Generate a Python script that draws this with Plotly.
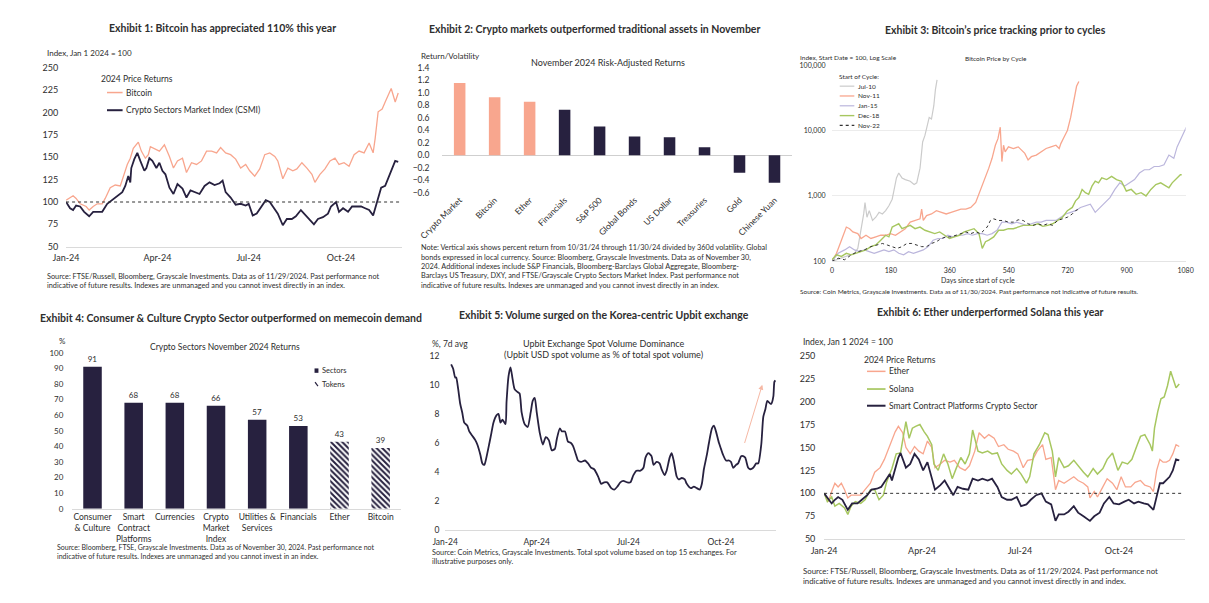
import pandas as pd
import plotly.graph_objects as go

W, H = 1209, 603
FONT = "Lato"
INK = "#2e2e2e"
NAVY = "#27213f"
SALMON = "#f8a68e"
GREEN = "#a7c760"
LAVENDER = "#bbb6dc"
SILVER = "#cbcbcb"
AXIS = "#dadada"

# ------------------------------------------------------------------ data
# Exhibit 1 (day offsets from Jan 1 2024, index values)
ex1_btc_days = [0,7,10,14,20,23,27,31,36,39,44,49,54,57,61,64,67,72,75,79,82,84,88,93,98,103,107,111,116,120,125,130,135,140,145,150,154,159,164,169,174,179,183,188,193,198,203,208,211,216,221,226,230,235,240,245,248,253,258,263,268,272,277,282,287,292,297,302,306,308,311,315,318,321,324,328,331]
ex1_btc = [102,107,104,98,95,91,95,98,98,104,116,119,118,129,142,149,160,167,157,149,153,162,160,157,164,151,138,146,149,133,144,142,146,157,157,155,161,155,153,148,138,142,135,129,137,153,155,151,146,126,138,135,137,144,138,131,122,131,137,146,149,142,144,140,153,157,155,166,155,171,201,204,212,219,227,212,222]
ex1_csmi_days = [0,4,7,10,14,18,23,27,31,36,41,46,51,56,59,62,64,65,68,71,74,78,80,83,86,90,93,96,99,103,107,111,116,120,124,128,133,138,143,148,153,156,159,164,169,174,179,182,186,190,195,199,203,206,211,216,220,225,229,234,239,243,247,251,256,261,264,269,272,276,281,285,289,294,298,302,306,310,314,318,321,324,328,331]
ex1_csmi = [100,93,91,96,95,89,84,89,89,89,98,102,107,111,118,129,122,138,148,155,146,135,138,149,146,138,144,135,131,116,109,120,115,105,113,111,109,118,122,119,121,124,111,105,97,98,96,98,85,87,95,102,100,95,87,74,81,81,84,91,85,80,75,81,83,87,95,100,89,93,89,95,95,95,93,91,85,102,116,118,127,135,146,145]

# Exhibit 2
ex2_assets = ["Crypto Market", "Bitcoin", "Ether", "Financials", "S&P 500", "Global Bonds", "US Dollar", "Treasuries", "Gold", "Chinese Yuan"]
ex2_ratio = [1.16, 0.93, 0.86, 0.73, 0.46, 0.30, 0.29, 0.13, -0.28, -0.44]
ex2_crypto = [True, True, True, False, False, False, False, False, False, False]

# Exhibit 3 (days since start of cycle, index values)
ex3_jul10_days = [0,39,69,79,89,97,101,107,114,124,134,144,154,164,174,184,191,197,204,214,224,239,251,259,269,277,284,291,297,304,311,316,321]
ex3_jul10 = [100,119,133,158,299,531,794,473,596,422,473,562,531,596,708,891,1334,1884,2239,1884,1778,1679,1496,1585,2661,6683,8414,11885,15849,14962,23714,42170,59566]
ex3_nov11_days = [0,14,29,44,54,64,79,89,104,119,134,149,164,179,194,209,224,239,254,269,274,279,289,304,319,334,349,364,379,394,409,424,439,449,459,469,479,489,499,507,514,519,524,529,539,554,569,579,589,599,609,624,639,654,669,684,694,699,709,719,729,739,747,754]
ex3_nov11 = [100,133,211,335,316,282,266,224,251,224,237,251,251,266,251,282,316,398,422,447,631,422,501,531,596,562,531,562,596,631,631,668,794,1059,1413,1884,2661,3758,5957,7499,11220,3350,5957,4732,5623,5309,5623,5012,4467,3548,3981,4217,4732,5309,5623,5957,5309,6310,7943,10000,15849,29854,47315,56234]
ex3_jan15_days = [0,19,39,54,69,84,99,114,129,144,159,174,189,204,219,234,249,264,279,294,309,324,339,354,369,384,399,414,429,444,459,474,489,504,519,534,549,564,579,594,609,624,639,654,669,684,699,714,729,744,759,774,789,804,819,834,849,864,879,894,909,924,939,954,969,984,999,1014,1029,1044,1054,1064,1074,1082]
ex3_jan15 = [100,133,150,168,150,141,150,141,133,141,150,141,150,133,126,141,133,141,150,168,211,224,224,251,237,251,251,266,251,266,266,251,266,299,398,398,376,398,376,355,376,398,398,422,422,422,473,531,562,596,668,708,750,562,668,794,944,1259,1585,1413,1585,1778,2239,2512,2512,2818,2818,2985,4217,3758,5623,7079,9441,11220]
ex3_dec18_days = [0,14,29,44,59,74,89,104,119,134,149,164,174,184,194,204,214,229,239,254,269,284,299,314,329,344,359,374,389,404,419,434,449,459,469,479,494,509,524,539,554,569,584,599,614,629,644,659,674,689,704,719,734,744,754,764,774,784,794,804,814,824,839,854,869,884,899,914,929,944,959,974,989,1004,1019,1029,1039,1054,1064,1068]
ex3_dec18 = [106,126,119,133,126,133,141,150,168,178,211,251,237,335,355,376,316,335,355,316,335,299,282,266,282,251,224,237,251,282,299,316,266,158,200,211,237,299,299,316,316,335,355,355,355,376,343,355,376,422,473,596,668,841,944,1259,1122,1059,1413,1679,1585,1884,1778,1995,1778,1679,1189,1259,1059,1122,1000,1259,1496,1585,1413,1334,1585,1884,2113,2113]
ex3_nov22_days = [0,19,39,59,79,99,119,139,154,169,184,199,214,229,244,259,274,289,304,319,334,349,364,379,394,409,424,439,454,464,474,484,494,509,524,539,554,569,584,599,614,629,644,659,674,689,704,719,734,744,754]
ex3_nov22 = [100,112,106,126,141,150,168,178,188,178,168,158,168,188,188,178,168,168,188,200,224,237,237,251,266,282,266,282,266,299,335,422,447,422,422,398,398,432,422,376,355,376,355,376,355,422,447,473,531,596,631]
ex3_cycles = ["Jul-10", "Nov-11", "Jan-15", "Dec-18", "Nov-22"]
ex3_ticks = [100, 1000, 10000, 100000]
ex3_ticktext = ["100", "1,000", "10,000", "100,000"]

# Exhibit 4
ex4_sectors = ["Consumer & Culture", "Smart Contract Platforms", "Currencies", "Crypto Market Index",
               "Utilities & Services", "Financials", "Ether", "Bitcoin"]
ex4_labels = ["Consumer<br>& Culture", "Smart<br>Contract<br>Platforms", "Currencies", "Crypto<br>Market<br>Index",
              "Utilities &<br>Services", "Financials", "Ether", "Bitcoin"]
ex4_returns = [91, 68, 68, 66, 57, 53, 43, 39]
ex4_kind = ["Sectors"] * 6 + ["Tokens"] * 2

# Exhibit 5 (days from Jan 1 2024, % 7d avg)
ex5_days = [6,8,10,11,13,15,17,19,22,24,27,30,32,35,37,39,41,44,46,48,51,53,55,57,60,61,63,65,67,69,72,74,76,79,82,85,87,89,91,94,97,100,103,106,109,111,114,116,119,122,125,127,130,132,135,139,142,145,148,152,155,158,161,165,168,171,174,177,181,184,187,190,194,197,199,202,205,207,210,213,215,218,220,223,225,227,230,232,235,238,240,244,247,250,253,255,257,260,262,265,267,269,272,274,276,279,282,284,286,289,291,294,296,298,301,303,306,309,311,314,316,318,320,323,324,326,327,328]
ex5_upbit = [11.4,11.1,10.5,10.5,9.7,8.7,8.1,7.4,7.2,6.8,6.5,6.2,5.9,5.2,4.6,4.5,5.0,6.0,6.7,7.4,7.9,8.0,7.4,7.6,7.3,8.8,10.6,11.2,10.4,9.7,9.5,9.4,8.1,7.3,7.1,8.1,8.9,9.1,8.1,6.7,5.9,6.4,6.2,5.5,5.6,6.3,7.0,6.8,6.8,6.1,6.0,5.8,5.2,4.8,4.7,4.8,4.6,4.3,4.2,3.7,3.2,3.3,3.3,2.9,2.8,3.0,3.3,3.4,3.3,3.3,3.8,4.1,4.1,4.3,5.0,5.3,5.1,4.5,4.7,4.6,4.2,3.8,4.1,5.0,5.3,4.8,3.7,3.5,3.6,3.5,3.2,2.9,3.0,2.9,2.8,3.2,4.2,5.2,6.0,7.0,7.2,6.8,6.0,5.6,5.2,4.8,4.8,4.7,4.3,4.5,4.6,5.1,5.1,5.0,4.3,4.2,4.3,4.6,4.6,5.9,7.8,8.3,8.9,8.7,8.7,9.2,10.2,10.3]
ex5_arrow_days = [297, 315]
ex5_arrow_vals = [5.9, 10.0]

# Exhibit 6
ex6_eth_days = [0,4,7,10,13,16,19,22,25,29,34,38,43,47,52,56,61,66,69,73,76,80,84,88,92,96,100,103,108,112,117,121,126,131,135,140,144,149,153,158,162,167,171,176,180,185,189,194,198,203,206,211,215,218,223,227,232,236,241,245,247,251,254,259,263,268,272,276,280,285,289,294,298,303,306,309,312,315,318,321,324,327,330]
ex6_eth = [100,91,102,111,107,111,104,95,98,98,98,104,111,123,128,137,153,167,173,166,150,143,151,146,143,157,150,128,132,136,134,136,128,125,130,146,166,160,164,160,151,153,148,146,143,128,136,137,146,153,137,139,104,114,111,114,118,114,111,107,95,102,96,107,116,111,104,118,107,107,112,114,109,107,102,125,137,134,134,136,143,153,151]
ex6_sol_days = [0,3,7,10,14,19,22,25,29,34,38,43,47,51,55,58,63,67,71,74,76,79,82,85,89,93,96,100,102,106,111,115,119,123,127,131,135,138,143,147,152,156,161,165,170,174,179,183,188,191,195,200,205,208,212,215,218,223,227,232,236,241,245,250,254,259,263,268,273,277,282,286,291,294,298,303,305,307,310,313,316,319,322,325,327,330]
ex6_sol = [100,91,96,86,89,84,77,86,91,89,93,104,104,93,98,112,127,143,144,166,178,160,171,173,175,167,162,153,132,125,143,132,116,128,139,132,143,169,146,144,146,143,144,132,125,121,127,121,111,118,143,153,166,164,146,118,139,128,130,136,130,123,118,127,121,127,137,144,125,134,132,137,153,162,164,153,146,171,189,203,205,217,233,222,215,219]
ex6_scp_days = [0,4,7,10,13,17,22,26,31,35,40,44,49,53,56,61,63,66,69,71,73,76,80,84,88,92,96,100,103,108,112,117,120,124,129,134,138,143,147,152,156,161,165,170,174,179,183,188,192,197,202,206,211,215,218,223,227,232,236,241,245,247,251,256,260,265,269,274,279,283,288,292,297,301,306,309,312,315,318,321,324,327,330]
ex6_scp = [100,93,89,93,96,93,82,89,89,93,98,104,105,107,112,121,114,128,139,144,137,128,132,143,137,125,134,118,104,109,114,104,98,107,105,104,116,114,116,114,116,107,96,93,93,96,86,88,93,98,100,91,88,70,77,77,80,86,79,75,72,70,75,79,89,96,89,88,91,93,89,91,89,88,82,98,111,111,114,118,125,137,136]

quarter_ticks = ["2024-01-01", "2024-04-01", "2024-07-01", "2024-10-01"]

# ------------------------------------------------------------------ helpers
START = pd.Timestamp("2024-01-01")


def dates(days):
    return [START + pd.Timedelta(days=int(d)) for d in days]


def px(x):
    return x / W


def py(y):
    return 1 - y / H


def xdom(a, b):
    return [a / W, b / W]


def ydom(top, bottom):
    return [1 - bottom / H, 1 - top / H]


annotations = []
shapes = []


def text(t, x, y, size, anchor="left", bold=False, color=INK):
    annotations.append(dict(
        text=f"<b>{t}</b>" if bold else t, x=px(x), y=py(y), xref="paper", yref="paper",
        xanchor=anchor, yanchor="middle", showarrow=False,
        font=dict(family=FONT, size=size, color=color)))


def key_line(x0, x1, y, color, width, dash="solid"):
    shapes.append(dict(type="line", xref="paper", yref="paper", x0=px(x0), x1=px(x1),
                       y0=py(y), y1=py(y), line=dict(color=color, width=width, dash=dash)))


fig = go.Figure()

# ------------------------------------------------------------------ Exhibit 1
fig.add_trace(go.Scatter(x=dates(ex1_btc_days), y=ex1_btc, mode="lines", name="Bitcoin",
                         line=dict(color=SALMON, width=1.3), xaxis="x", yaxis="y"))
fig.add_trace(go.Scatter(x=dates(ex1_csmi_days), y=ex1_csmi, mode="lines",
                         name="Crypto Sectors Market Index (CSMI)",
                         line=dict(color=NAVY, width=1.8), xaxis="x", yaxis="y"))

# ------------------------------------------------------------------ Exhibit 2
fig.add_trace(go.Bar(x=ex2_assets, y=ex2_ratio, width=0.33,
                     marker=dict(color=[SALMON if c else NAVY for c in ex2_crypto], line=dict(width=0)),
                     xaxis="x2", yaxis="y2"))

# ------------------------------------------------------------------ Exhibit 3
ex3_series = [
    (ex3_jul10_days, ex3_jul10, SILVER, "solid", 1.2),
    (ex3_nov11_days, ex3_nov11, SALMON, "solid", 1.3),
    (ex3_jan15_days, ex3_jan15, LAVENDER, "solid", 1.2),
    (ex3_dec18_days, ex3_dec18, GREEN, "solid", 1.4),
    (ex3_nov22_days, ex3_nov22, "#333333", "dot", 1.0),
]
for name, (d, v, c, dash, w) in zip(ex3_cycles, ex3_series):
    fig.add_trace(go.Scatter(x=d, y=v, mode="lines", name=name,
                             line=dict(color=c, width=w, dash=dash), xaxis="x3", yaxis="y3"))

# ------------------------------------------------------------------ Exhibit 4
fig.add_trace(go.Bar(
    x=ex4_sectors, y=ex4_returns, width=0.45,
    text=[str(v) for v in ex4_returns], textposition="outside", cliponaxis=False,
    textfont=dict(family=FONT, size=8, color=INK),
    marker=dict(color=NAVY, line=dict(width=0),
                pattern=dict(shape=["\\" if k == "Tokens" else "" for k in ex4_kind],
                             fillmode="replace", bgcolor="white", fgcolor=NAVY, size=4, solidity=0.5)),
    xaxis="x4", yaxis="y4"))

# ------------------------------------------------------------------ Exhibit 5
fig.add_trace(go.Scatter(x=dates(ex5_days), y=ex5_upbit, mode="lines", line_shape="spline",
                         line=dict(color=NAVY, width=1.8, smoothing=0.6), xaxis="x5", yaxis="y5"))
arrow_dates = dates(ex5_arrow_days)
annotations.append(dict(x=arrow_dates[1], y=ex5_arrow_vals[1], ax=arrow_dates[0], ay=ex5_arrow_vals[0],
                        xref="x5", yref="y5", axref="x5", ayref="y5", text="", showarrow=True,
                        arrowhead=2, arrowsize=1, arrowwidth=1, arrowcolor="#f6b8a4"))

# ------------------------------------------------------------------ Exhibit 6
fig.add_trace(go.Scatter(x=dates(ex6_eth_days), y=ex6_eth, mode="lines", name="Ether",
                         line=dict(color=SALMON, width=1.3), xaxis="x6", yaxis="y6"))
fig.add_trace(go.Scatter(x=dates(ex6_sol_days), y=ex6_sol, mode="lines", name="Solana",
                         line=dict(color=GREEN, width=1.5), xaxis="x6", yaxis="y6"))
fig.add_trace(go.Scatter(x=dates(ex6_scp_days), y=ex6_scp, mode="lines",
                         name="Smart Contract Platforms Crypto Sector",
                         line=dict(color=NAVY, width=1.8), xaxis="x6", yaxis="y6"))

# dotted 100 reference lines
for xr, yr in (("x domain", "y"), ("x6 domain", "y6")):
    shapes.append(dict(type="line", xref=xr, yref=yr, x0=0, x1=0.995, y0=100, y1=100,
                       line=dict(color="#333333", width=1, dash="dot")))

# ------------------------------------------------------------------ axes
tickfont = lambda s: dict(family=FONT, size=s, color=INK)
hidden = "rgba(0,0,0,0)"


def date_axis(dom, anchor, end, size):
    return dict(domain=dom, anchor=anchor, type="date", range=["2024-01-01", end],
                tickvals=quarter_ticks, tickformat="%b-%y", showgrid=False, zeroline=False,
                showline=True, linecolor=AXIS, linewidth=1, ticks="outside", ticklen=3,
                tickcolor=hidden, tickfont=tickfont(size))


def value_axis(dom, anchor, rng, dtick, size, ticklen, fmt=None):
    d = dict(domain=dom, anchor=anchor, range=rng, dtick=dtick, showgrid=False, zeroline=False,
             showline=False, ticks="outside", ticklen=ticklen, tickcolor=hidden, tickfont=tickfont(size))
    if fmt:
        d["tickformat"] = fmt
    return d


layout = dict(
    width=W, height=H, margin=dict(l=0, r=0, t=0, b=0), showlegend=False,
    paper_bgcolor="white", plot_bgcolor="white", font=dict(family=FONT, color=INK),
    bargap=0.5,
    xaxis=date_axis(xdom(36, 381), "y", "2024-12-01", 9),
    yaxis=value_axis(ydom(55, 237), "x", [50, 250], 25, 9, 5),
    xaxis2=dict(domain=xdom(422, 781), anchor="y2", type="category", tickangle=-45, showgrid=False,
                showline=False, zeroline=False, ticks="", tickfont=tickfont(8.5)),
    yaxis2=dict(value_axis(ydom(55, 182), "x2", [-0.6, 1.4], 0.2, 8.5, 10, ".1f"),
                zeroline=True, zerolinecolor="#cfcfcf", zerolinewidth=1),
    xaxis3=dict(domain=xdom(822, 1185), anchor="y3", range=[0, 1080], tickvals=[0, 180, 360, 540, 720, 900, 1080],
                showgrid=False, zeroline=False, showline=True, linecolor="#e4e4e4", ticks="outside",
                ticklen=2, tickcolor=hidden, tickfont=tickfont(7)),
    yaxis3=dict(domain=ydom(52, 252), anchor="x3", type="log", range=[2, 5], tickvals=ex3_ticks,
                ticktext=ex3_ticktext, showgrid=True, gridcolor="#ececec", zeroline=False, showline=False,
                ticks="outside", ticklen=4, tickcolor=hidden, tickfont=tickfont(7)),
    xaxis4=dict(domain=xdom(42, 380), anchor="y4", type="category", tickvals=ex4_sectors, ticktext=ex4_labels,
                showgrid=False, zeroline=False, showline=True, linecolor=AXIS, ticks="", tickfont=tickfont(8.5)),
    yaxis4=value_axis(ydom(345, 504), "x4", [0, 100], 10, 8, 6),
    xaxis5=date_axis(xdom(425, 765), "y5", "2024-11-25", 8.5),
    yaxis5=value_axis(ydom(348, 526), "x5", [0, 12], 2, 8.5, 3),
    xaxis6=date_axis(xdom(814, 1184), "y6", "2024-12-01", 9),
    yaxis6=value_axis(ydom(348, 535), "x6", [50, 250], 25, 9, 6),
)

# ------------------------------------------------------------------ texts
# Exhibit 1
text("Exhibit 1: Bitcoin has appreciated 110% this year", 197, 14, 10.5, "center", bold=True)
text("Index, Jan 1 2024 = 100", 14, 40, 8)
text("2024 Price Returns", 70, 66, 8.5)
key_line(78, 94, 80, SALMON, 1.5)
text("Bitcoin", 95, 80, 8.5)
key_line(78, 94, 98, NAVY, 2)
text("Crypto Sectors Market Index (CSMI)", 95, 98, 8.5)
text("Source: FTSE/Russell, Bloomberg, Grayscale Investments. Data as of 11/29/2024. Past performance not", 14, 267, 7.3)
text("indicative of future results. Indexes are unmanaged and you cannot invest directly in an index.", 14, 277, 7.3)

# Exhibit 2
text("Exhibit 2: Crypto markets outperformed traditional assets in November", 406, 15, 10.5, bold=True)
text("Return/Volatility", 398, 43, 8)
text("November 2024 Risk-Adjusted Returns", 592, 49, 9, "center")
for i, line in enumerate([
        "Note: Vertical axis shows percent return from 10/31/24 through 11/30/24 divided by 360d volatility. Global",
        "bonds expressed in local currency. Source: Bloomberg, Grayscale Investments. Data as of November 30,",
        "2024. Additional indexes include S&P Financials, Bloomberg-Barclays Global Aggregate, Bloomberg-",
        "Barclays US Treasury, DXY, and FTSE/Grayscale Crypto Sectors Market Index. Past performance not",
        "indicative of future results. Indexes are unmanaged and you cannot invest directly in an index."]):
    text(line, 398, 238 + i * 9.6, 7.3)

# Exhibit 3
text("Exhibit 3: Bitcoin’s price tracking prior to cycles", 990, 16, 10.5, "center", bold=True)
text("Index, Start Date = 100, Log Scale", 787, 44, 6.5)
text("Bitcoin Price by Cycle", 990, 45, 6.5, "center")
text("Start of Cycle:", 827, 64, 6.5)
for i, (name, (_, _, c, dash, w)) in enumerate(zip(ex3_cycles, ex3_series)):
    yy = 73.5 + i * 10
    key_line(830, 845, yy, c, max(w, 1.2), dash)
    text(name, 847, yy, 6.5)
text("Days since start of cycle", 972, 271, 7, "center")
text("Source: Coin Metrics, Grayscale Investments. Data as of 11/30/2024. Past performance not indicative of future results.",
     787, 283, 6.5)

# Exhibit 4
text("Exhibit 4: Consumer & Culture Crypto Sector outperformed on memecoin demand", 7, 310, 10.5, bold=True)
text("%", 27, 333.5, 8)
text("Crypto Sectors November 2024 Returns", 199, 339, 8.5, "center")
shapes.append(dict(type="rect", xref="paper", yref="paper", x0=px(291), x1=px(295), y0=py(365.5),
                   y1=py(361), fillcolor=NAVY, line=dict(width=0)))
text("Sectors", 297, 363, 7.5)
shapes.append(dict(type="line", xref="paper", yref="paper", x0=px(291.5), x1=px(294.5), y0=py(375),
                   y1=py(379), line=dict(color=NAVY, width=1.2)))
text("Tokens", 297, 377, 7.5)
text("Source: Bloomberg, FTSE, Grayscale Investments. Data as of November 30, 2024. Past performance not", 25, 543, 7)
text("indicative of future results. Indexes are unmanaged and you cannot invest in an index.", 25, 552, 7)

# Exhibit 5
text("Exhibit 5: Volume surged on the Korea-centric Upbit exchange", 588, 307, 10.5, "center", bold=True)
text("%, 7d avg", 410, 336, 8.5)
text("Upbit Exchange Spot Volume Dominance", 588, 336, 9, "center")
text("(Upbit USD spot volume as % of total spot volume)", 588, 347, 9, "center")
text("Source: Coin Metrics, Grayscale Investments. Total spot volume based on top 15 exchanges. For", 410, 548, 7.3)
text("illustrative purposes only.", 410, 558, 7.3)

# Exhibit 6
text("Exhibit 6: Ether underperformed Solana this year", 985, 304, 10.5, "center", bold=True)
text("Index, Jan 1 2024 = 100", 790, 334, 8.5)
text("2024 Price Returns", 853, 352, 8.5)
for yy, c, w, name in ((364, SALMON, 1.5, "Ether"), (382, GREEN, 1.7, "Solana"),
                       (399, NAVY, 2, "Smart Contract Platforms Crypto Sector")):
    key_line(858, 877, yy, c, w)
    text(name, 879, yy, 8.5)
text("Source: FTSE/Russell, Bloomberg, Grayscale Investments. Data as of 11/29/2024. Past performance not", 790, 567, 7.8)
text("indicative of future results. Indexes are unmanaged and you cannot invest directly in and index.", 790, 578, 7.8)

layout["annotations"] = annotations
layout["shapes"] = shapes
fig.update_layout(**layout)
fig.write_html("out.html")
